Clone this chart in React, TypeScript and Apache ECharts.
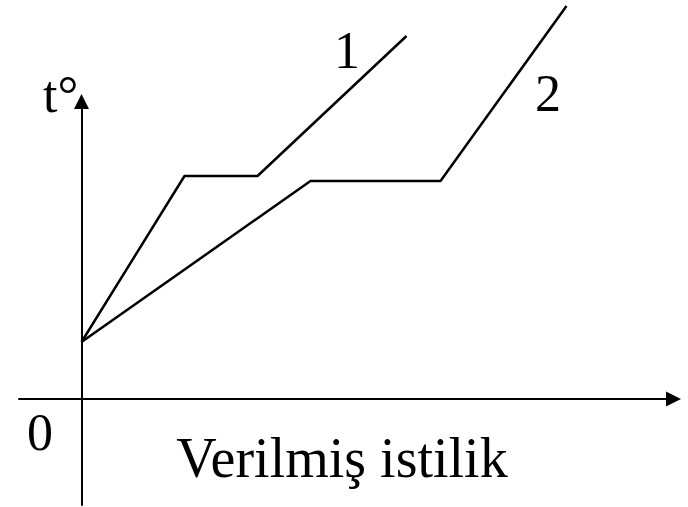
import React, { useEffect, useRef } from "react";
import * as echarts from "echarts";

// Heat supplied (x) vs temperature (y), arbitrary units
const line1X = [0, 10.3, 17.6, 32.5];
const line1Y = [5.7, 22.3, 22.3, 36.3];
const line2X = [0, 22.9, 35.9, 48.5];
const line2Y = [5.7, 21.8, 21.8, 39.3];
const seriesNames = ["1", "2"];
const xTitle = "Verilmiş istilik";
const yTitle = "t°";
const originLabel = "0";

const FONT = "'Liberation Serif', 'DejaVu Serif', serif";

export default function App() {
  const ref = useRef<HTMLDivElement>(null);
  useEffect(() => {
    if (!ref.current) return;
    const chart = echarts.init(ref.current, undefined, { renderer: "svg" });
    const lineStyle = { color: "#000", width: 2.5 };
    const axisCommon = {
      type: "value" as const,
      axisTick: { show: false },
      axisLabel: { show: false },
      splitLine: { show: false },
      axisLine: {
        show: true,
        onZero: true,
        symbol: ["none", "triangle"],
        symbolSize: [15, 15],
        lineStyle: { color: "#000", width: 2 },
      },
    };
    const textStyle = (size: number) => ({
      fill: "#000",
      font: `${size}px ${FONT}`,
    });
    chart.setOption({
      animation: false,
      backgroundColor: "#fff",
      grid: { left: 19, right: 14.5, top: 101.5, bottom: 2 },
      xAxis: { ...axisCommon, min: -6.25, max: 59.2 },
      yAxis: { ...axisCommon, min: -10.6, max: 29.75 },
      series: [
        {
          name: seriesNames[0],
          type: "line",
          symbol: "none",
          clip: false,
          lineStyle,
          data: line1X.map((x, i) => [x, line1Y[i]]),
        },
        {
          name: seriesNames[1],
          type: "line",
          symbol: "none",
          clip: false,
          lineStyle,
          data: line2X.map((x, i) => [x, line2Y[i]]),
        },
      ],
      graphic: [
        {
          type: "text",
          x: 43,
          y: 94,
          style: { ...textStyle(52), text: yTitle, textAlign: "left", textVerticalAlign: "middle" },
        },
        {
          type: "text",
          x: 40,
          y: 432,
          style: { ...textStyle(52), text: originLabel, textAlign: "center", textVerticalAlign: "middle" },
        },
        {
          type: "text",
          x: 342,
          y: 458,
          style: { ...textStyle(56), text: xTitle, textAlign: "center", textVerticalAlign: "middle" },
        },
        {
          type: "text",
          x: 347,
          y: 50,
          style: { ...textStyle(52), text: seriesNames[0], textAlign: "center", textVerticalAlign: "middle" },
        },
        {
          type: "text",
          x: 548,
          y: 93,
          style: { ...textStyle(52), text: seriesNames[1], textAlign: "center", textVerticalAlign: "middle" },
        },
      ],
    });
    return () => chart.dispose();
  }, []);
  return <div ref={ref} style={{ width: 688, height: 507, position: "absolute", left: 0, top: 0 }} />;
}
